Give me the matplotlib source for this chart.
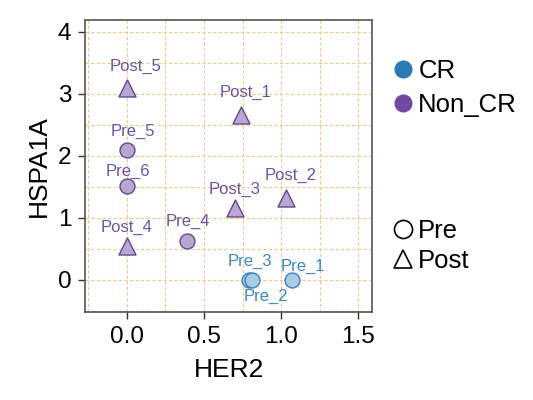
import matplotlib
matplotlib.use("Agg")
import matplotlib.pyplot as plt
from matplotlib.lines import Line2D
from matplotlib.ticker import MultipleLocator

plt.rcParams['font.family'] = ['Liberation Sans', 'DejaVu Sans']

# data
samples = ['Post_5', 'Post_1', 'Pre_5', 'Pre_6', 'Post_2', 'Post_3',
           'Post_4', 'Pre_4', 'Pre_3', 'Pre_2', 'Pre_1']
her2 = [0.0, 0.74, 0.0, 0.0, 1.03, 0.70, 0.0, 0.39, 0.79, 0.81, 1.07]
hspa1a = [3.1, 2.65, 2.1, 1.52, 1.32, 1.15, 0.55, 0.63, 0.0, 0.0, 0.0]
response = ['Non_CR', 'Non_CR', 'Non_CR', 'Non_CR', 'Non_CR', 'Non_CR',
            'Non_CR', 'Non_CR', 'CR', 'CR', 'CR']
timepoint = ['Post', 'Post', 'Pre', 'Pre', 'Post', 'Post',
             'Post', 'Pre', 'Pre', 'Pre', 'Pre']

# label offsets in pixels (repel-like placement)
label_offsets = [(9, 21), (5, 23), (6, 18), (1, 14), (5, 22), (0, 19),
                 (0, 18), (1, 19), (1, 18), (14, -17), (11, 13)]

fill = {'CR': '#a8cbe6', 'Non_CR': '#b9a6d3'}
edge = {'CR': '#3b7fb6', 'Non_CR': '#5f4a8c'}
txt = {'CR': '#3a88bf', 'Non_CR': '#6c53a0'}
key = {'CR': '#2a7ab5', 'Non_CR': '#7248a2'}
shape = {'Pre': 'o', 'Post': '^'}
msize = {'Pre': 115, 'Post': 150}

fig = plt.figure(figsize=(5.33, 4.0), dpi=100)
ax = fig.add_axes([0.16, 0.22, 0.538, 0.73])

for i in range(len(samples)):
    r = response[i]
    t = timepoint[i]
    ax.scatter(her2[i], hspa1a[i], s=msize[t], marker=shape[t],
               facecolor=fill[r], edgecolor=edge[r], linewidth=1.0, zorder=3)
    ax.annotate(samples[i], (her2[i], hspa1a[i]), xytext=label_offsets[i],
                textcoords='offset pixels', ha='center', va='center',
                fontsize=12, color=txt[r], zorder=4)

ax.set_xlim(-0.27, 1.59)
ax.set_ylim(-0.52, 4.19)
ax.set_xticks([0, 0.5, 1.0, 1.5])
ax.set_xticklabels(['0.0', '0.5', '1.0', '1.5'])
ax.set_yticks([0, 1, 2, 3, 4])
ax.set_yticklabels(['0', '1', '2', '3', '4'])
ax.xaxis.set_minor_locator(MultipleLocator(0.25))
ax.yaxis.set_minor_locator(MultipleLocator(0.5))
ax.grid(True, which='major', color='#f0c98a', linestyle=(0, (3, 2)), linewidth=0.8)
ax.grid(True, which='minor', color='#f0c98a', linestyle=(0, (3, 2)), linewidth=0.8)
ax.set_axisbelow(True)
ax.tick_params(which='major', direction='out', length=5, width=1, color='#333333',
               labelsize=17.5, labelcolor='black', pad=5)
ax.tick_params(which='minor', length=0)
for sp in ax.spines.values():
    sp.set_color('#555555')
    sp.set_linewidth(1.2)

ax.set_xlabel('HER2', fontsize=19, labelpad=7)
ax.set_ylabel('HSPA1A', fontsize=19, labelpad=5)

color_handles = [Line2D([], [], marker='o', linestyle='', markersize=12,
                        markerfacecolor=key[k], markeredgecolor=key[k], label=k)
                 for k in ['CR', 'Non_CR']]
shape_handles = [Line2D([], [], marker=shape[k], linestyle='', markersize=13,
                        markerfacecolor='white', markeredgecolor='black',
                        markeredgewidth=1.2, label=k)
                 for k in ['Pre', 'Post']]

leg1 = fig.legend(handles=color_handles, loc='upper left', bbox_to_anchor=(0.71, 0.877),
                  frameon=False, fontsize=18.5, handletextpad=0.05, labelspacing=0.38,
                  handlelength=1.1, borderaxespad=0)
leg2 = fig.legend(handles=shape_handles, loc='upper left', bbox_to_anchor=(0.71, 0.477),
                  frameon=False, fontsize=18.5, handletextpad=0.05, labelspacing=0.2,
                  handlelength=1.1, borderaxespad=0)

fig.savefig('out.png', dpi=100)
